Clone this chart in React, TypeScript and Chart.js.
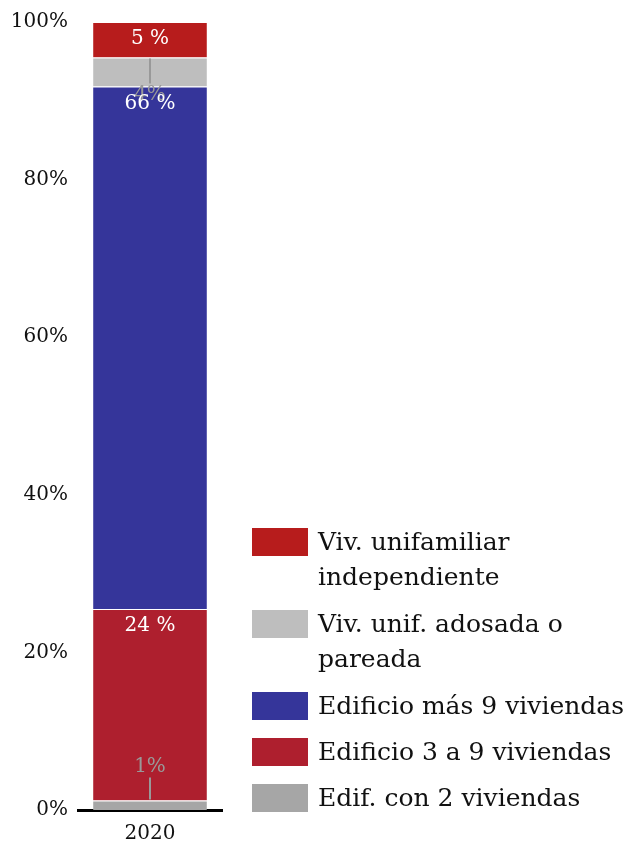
import React, { useEffect, useRef } from 'react';
import { Chart, registerables } from 'chart.js';

Chart.register(...registerables);

const categories = ['2020'];
const edifCon2 = [1.2];
const edif3a9 = [24.3];
const edifMas9 = [66.3];
const vivAdosada = [3.7];
const vivIndependiente = [4.5];
const seriesNames = [
  'Edif. con 2 viviendas',
  'Edificio 3 a 9 viviendas',
  'Edificio más 9 viviendas',
  'Viv. unif. adosada o pareada',
  'Viv. unifamiliar independiente',
];
const legendLines = [
  ['Edif. con 2 viviendas'],
  ['Edificio 3 a 9 viviendas'],
  ['Edificio más 9 viviendas'],
  ['Viv. unif. adosada o', 'pareada'],
  ['Viv. unifamiliar', 'independiente'],
];
const colors = ['#a6a6a6', '#ae1f2e', '#35359a', '#bebebe', '#b71c1c'];
const labelTexts = ['1%', '24 %', '66 %', '4%', '5 %'];
const labelModes = ['above', 'inside', 'inside', 'below', 'inside'];

const FONT = '"DejaVu Serif", serif';

const dataLabelPlugin = {
  id: 'segLabels',
  afterDatasetsDraw(chart: any) {
    const ctx = chart.ctx;
    ctx.save();
    ctx.textAlign = 'center';
    ctx.textBaseline = 'middle';
    ctx.font = `20px ${FONT}`;
    const order = [0, 3, 1, 2, 4];
    order.forEach((i) => {
      const meta = chart.getDatasetMeta(i);
      const bar: any = meta.data[0];
      if (!bar) return;
      const top = Math.min(bar.y, bar.base);
      const bottom = Math.max(bar.y, bar.base);
      const x = bar.x;
      const mode = labelModes[i];
      if (mode === 'inside') {
        ctx.fillStyle = '#ffffff';
        ctx.fillText(labelTexts[i], x, top + 17);
      } else {
        ctx.strokeStyle = '#999999';
        ctx.lineWidth = 2;
        ctx.fillStyle = '#999999';
        ctx.beginPath();
        if (mode === 'above') {
          ctx.moveTo(x, top - 23);
          ctx.lineTo(x, top - 1);
          ctx.stroke();
          ctx.fillText(labelTexts[i], x, top - 34);
        } else {
          ctx.moveTo(x, top + 1);
          ctx.lineTo(x, bottom - 3);
          ctx.stroke();
          ctx.fillText(labelTexts[i], x, bottom + 8);
        }
      }
    });
    ctx.restore();
  },
};

const legendPlugin = {
  id: 'sideLegend',
  afterDraw(chart: any) {
    const ctx = chart.ctx;
    ctx.save();
    ctx.font = `25px ${FONT}`;
    ctx.textBaseline = 'middle';
    ctx.textAlign = 'left';
    let y = 528;
    for (let i = seriesNames.length - 1; i >= 0; i--) {
      const lines = legendLines[i];
      ctx.fillStyle = colors[i];
      ctx.fillRect(252, y, 56, 28);
      ctx.fillStyle = '#111111';
      lines.forEach((ln, k) => {
        ctx.fillText(ln, 318, y + 15 + k * 35);
      });
      y += lines.length * 36 + 10;
    }
    ctx.restore();
  },
};

export default function App() {
  const ref = useRef<HTMLCanvasElement>(null);
  useEffect(() => {
    if (!ref.current) return;
    const series = [edifCon2, edif3a9, edifMas9, vivAdosada, vivIndependiente];
    const chart = new Chart(ref.current, {
      type: 'bar',
      data: {
        labels: categories,
        datasets: series.map((vals, i) => ({
          label: seriesNames[i],
          data: vals,
          backgroundColor: colors[i],
          borderColor: '#ffffff',
          borderWidth: { top: 1, bottom: 0, left: 0, right: 0 },
          borderSkipped: false,
          barPercentage: 0.79,
          categoryPercentage: 1,
        })),
      },
      options: {
        animation: false,
        responsive: true,
        maintainAspectRatio: false,
        layout: { padding: { top: 21, right: 412, left: 0, bottom: 0 } },
        plugins: {
          legend: { display: false },
          tooltip: { enabled: false },
        },
        scales: {
          x: {
            stacked: true,
            grid: { display: false, drawTicks: false },
            border: { display: true, color: '#000000', width: 3 },
            ticks: { color: '#111111', font: { family: FONT, size: 20 }, padding: 12 },
            afterFit: (s: any) => { s.height = 43; },
          },
          y: {
            stacked: true,
            min: 0,
            max: 100,
            grid: { display: false, drawTicks: false },
            border: { display: false },
            ticks: {
              stepSize: 20,
              color: '#111111',
              padding: 10,
              font: { family: FONT, size: 20 },
              callback: (v: any) => `${v}%`,
            },
            afterFit: (s: any) => { s.width = 78; },
          },
        },
      },
      plugins: [dataLabelPlugin, legendPlugin],
    });
    return () => chart.destroy();
  }, []);
  return (
    <div style={{ position: 'fixed', left: 0, top: 0, width: 634, height: 853, background: '#fff' }}>
      <canvas ref={ref} />
    </div>
  );
}
